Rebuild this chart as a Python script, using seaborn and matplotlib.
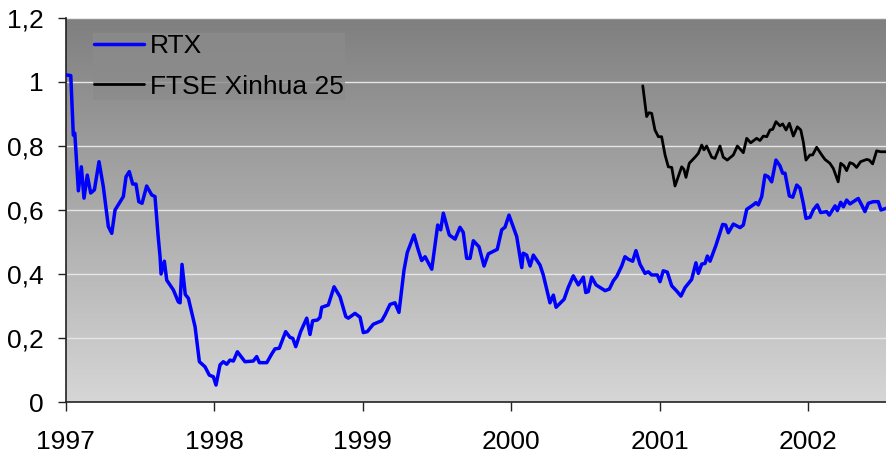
import numpy as np
import pandas as pd
import matplotlib
matplotlib.use("Agg")
import matplotlib.pyplot as plt
from matplotlib.ticker import FuncFormatter
import seaborn as sns

# time in decimal years
rtx_t = [1997.002, 1997.034, 1997.051, 1997.061, 1997.085, 1997.105, 1997.123, 1997.145, 1997.168, 1997.193,
         1997.224, 1997.253, 1997.287, 1997.310, 1997.332, 1997.388, 1997.406, 1997.428, 1997.451, 1997.473,
         1997.492, 1997.514, 1997.545, 1997.579, 1997.601, 1997.622, 1997.635, 1997.642, 1997.664, 1997.680,
         1997.725, 1997.758, 1997.770, 1997.783, 1997.805, 1997.826, 1997.871, 1997.900, 1997.938, 1997.967,
         1997.994, 1998.012, 1998.039, 1998.061, 1998.084, 1998.106, 1998.129, 1998.156, 1998.207, 1998.263,
         1998.286, 1998.304, 1998.354, 1998.387, 1998.409, 1998.438, 1998.481, 1998.510, 1998.529, 1998.549,
         1998.582, 1998.623, 1998.645, 1998.663, 1998.694, 1998.712, 1998.724, 1998.768, 1998.807, 1998.847,
         1998.886, 1998.903, 1998.948, 1998.982, 1999.004, 1999.031, 1999.071, 1999.128, 1999.150, 1999.184,
         1999.217, 1999.244, 1999.278, 1999.300, 1999.345, 1999.374, 1999.397, 1999.420, 1999.465, 1999.505,
         1999.525, 1999.543, 1999.583, 1999.622, 1999.655, 1999.677, 1999.700, 1999.723, 1999.745, 1999.783,
         1999.817, 1999.846, 1999.906, 1999.936, 1999.958, 1999.985, 2000.037, 2000.071, 2000.081, 2000.104,
         2000.127, 2000.149, 2000.194, 2000.216, 2000.261, 2000.284, 2000.302, 2000.356, 2000.384, 2000.418,
         2000.452, 2000.486, 2000.502, 2000.519, 2000.542, 2000.571, 2000.632, 2000.661, 2000.688, 2000.710,
         2000.744, 2000.766, 2000.789, 2000.818, 2000.840, 2000.867, 2000.901, 2000.923, 2000.946, 2000.984,
         2001.002, 2001.024, 2001.051, 2001.081, 2001.114, 2001.143, 2001.170, 2001.215, 2001.244, 2001.260,
         2001.283, 2001.305, 2001.321, 2001.339, 2001.379, 2001.424, 2001.444, 2001.462, 2001.496, 2001.541,
         2001.563, 2001.586, 2001.630, 2001.648, 2001.664, 2001.687, 2001.709, 2001.731, 2001.754, 2001.783,
         2001.810, 2001.828, 2001.844, 2001.873, 2001.896, 2001.923, 2001.945, 2001.967, 2001.985, 2002.012,
         2002.034, 2002.061, 2002.084, 2002.125, 2002.142, 2002.181, 2002.196, 2002.219, 2002.237, 2002.259,
         2002.281, 2002.337, 2002.360, 2002.382, 2002.405, 2002.438, 2002.472, 2002.490, 2002.524]
rtx_v = [1.022, 1.020, 0.834, 0.840, 0.660, 0.735, 0.637, 0.709, 0.653, 0.663,
         0.751, 0.673, 0.548, 0.527, 0.600, 0.642, 0.704, 0.720, 0.681, 0.681,
         0.626, 0.621, 0.675, 0.647, 0.642, 0.520, 0.455, 0.400, 0.440, 0.381,
         0.350, 0.313, 0.310, 0.430, 0.336, 0.324, 0.235, 0.126, 0.110, 0.084,
         0.079, 0.053, 0.116, 0.126, 0.118, 0.131, 0.128, 0.157, 0.126, 0.128,
         0.142, 0.123, 0.123, 0.150, 0.166, 0.168, 0.220, 0.202, 0.199, 0.173,
         0.220, 0.262, 0.211, 0.254, 0.256, 0.264, 0.296, 0.303, 0.360, 0.329,
         0.267, 0.262, 0.277, 0.265, 0.217, 0.220, 0.243, 0.254, 0.272, 0.305,
         0.310, 0.280, 0.412, 0.467, 0.522, 0.475, 0.442, 0.454, 0.415, 0.553,
         0.538, 0.590, 0.522, 0.509, 0.546, 0.530, 0.449, 0.449, 0.504, 0.485,
         0.425, 0.463, 0.477, 0.538, 0.546, 0.584, 0.517, 0.420, 0.465, 0.459,
         0.425, 0.459, 0.428, 0.397, 0.310, 0.334, 0.296, 0.321, 0.358, 0.394,
         0.366, 0.390, 0.342, 0.345, 0.390, 0.366, 0.348, 0.353, 0.379, 0.392,
         0.425, 0.454, 0.446, 0.440, 0.473, 0.431, 0.402, 0.407, 0.397, 0.397,
         0.376, 0.410, 0.406, 0.363, 0.347, 0.331, 0.357, 0.383, 0.435, 0.402,
         0.431, 0.433, 0.456, 0.440, 0.490, 0.555, 0.553, 0.529, 0.556, 0.545,
         0.553, 0.602, 0.616, 0.623, 0.616, 0.642, 0.709, 0.704, 0.688, 0.756,
         0.738, 0.715, 0.715, 0.644, 0.640, 0.678, 0.668, 0.621, 0.574, 0.577,
         0.600, 0.616, 0.592, 0.595, 0.584, 0.613, 0.598, 0.624, 0.610, 0.631,
         0.619, 0.636, 0.616, 0.595, 0.621, 0.626, 0.626, 0.600, 0.605]

ftse_t = [2000.886, 2000.912, 2000.928, 2000.946, 2000.968, 2000.991, 2001.013, 2001.036, 2001.058, 2001.081,
          2001.103, 2001.148, 2001.163, 2001.177, 2001.199, 2001.238, 2001.260, 2001.283, 2001.298, 2001.316,
          2001.350, 2001.372, 2001.406, 2001.428, 2001.455, 2001.496, 2001.523, 2001.552, 2001.563, 2001.586,
          2001.613, 2001.653, 2001.675, 2001.698, 2001.721, 2001.743, 2001.761, 2001.783, 2001.810, 2001.828,
          2001.851, 2001.873, 2001.900, 2001.927, 2001.950, 2001.967, 2001.985, 2002.012, 2002.030, 2002.057,
          2002.091, 2002.113, 2002.146, 2002.169, 2002.202, 2002.219, 2002.241, 2002.259, 2002.281, 2002.303,
          2002.326, 2002.353, 2002.394, 2002.411, 2002.434, 2002.461, 2002.488, 2002.524]
ftse_v = [0.988, 0.892, 0.904, 0.902, 0.850, 0.829, 0.829, 0.772, 0.735, 0.733,
          0.675, 0.735, 0.727, 0.702, 0.746, 0.765, 0.777, 0.803, 0.788, 0.800,
          0.765, 0.761, 0.800, 0.765, 0.756, 0.772, 0.800, 0.785, 0.779, 0.824,
          0.810, 0.824, 0.817, 0.831, 0.829, 0.850, 0.852, 0.876, 0.863, 0.869,
          0.850, 0.871, 0.831, 0.860, 0.850, 0.813, 0.756, 0.772, 0.772, 0.796,
          0.772, 0.758, 0.746, 0.730, 0.688, 0.746, 0.738, 0.723, 0.748, 0.744,
          0.733, 0.751, 0.758, 0.756, 0.744, 0.785, 0.782, 0.782]

years = [1997, 1998, 1999, 2000, 2001, 2002]
y_ticks = [0, 0.2, 0.4, 0.6, 0.8, 1.0, 1.2]


def comma_fmt(v, pos):
    s = "%g" % round(v, 2)
    return s.replace(".", ",")


sns.set_style("ticks")
plt.rcParams["font.family"] = ["Liberation Sans", "DejaVu Sans"]
plt.rcParams["text.color"] = "black"
plt.rcParams["xtick.color"] = "black"
plt.rcParams["ytick.color"] = "black"

fig = plt.figure(figsize=(8.86, 4.54), dpi=100)
ax = fig.add_axes([0.0742, 0.1145, 1 - 0.0742, 0.9604 - 0.1145])

# grey vertical gradient background
grad = np.linspace(0, 1, 256).reshape(-1, 1)
ax.imshow(grad, cmap=matplotlib.colors.LinearSegmentedColormap.from_list("bg", ["#d6d6d6", "#7f7f7f"]),
          extent=[0, 1, 0, 1], transform=ax.transAxes, aspect="auto", origin="lower", zorder=0)

rtx = pd.DataFrame({"t": rtx_t, "v": rtx_v})
ftse = pd.DataFrame({"t": ftse_t, "v": ftse_v})
sns.lineplot(data=rtx, x="t", y="v", ax=ax, color="#0000ff", linewidth=2.5, label="RTX", zorder=3)
sns.lineplot(data=ftse, x="t", y="v", ax=ax, color="#000000", linewidth=2.0, label="FTSE Xinhua 25", zorder=3)

ax.set_xlim(1997, 2002.524)
ax.set_ylim(0, 1.2)
ax.set_xticks(years)
ax.set_xticklabels([str(y) for y in years])
ax.set_yticks(y_ticks)
ax.yaxis.set_major_formatter(FuncFormatter(comma_fmt))
ax.set_xlabel("")
ax.set_ylabel("")

ax.grid(axis="y", color="#e6e6e6", linewidth=1.0, zorder=1)
ax.set_axisbelow(True)
for s in ["top", "right"]:
    ax.spines[s].set_visible(False)
for s in ["left", "bottom"]:
    ax.spines[s].set_color("#222222")
    ax.spines[s].set_linewidth(1.2)
ax.tick_params(axis="x", length=6.5, width=1, color="#222222", pad=14, labelsize=19, labelcolor="black")
ax.tick_params(axis="y", length=5.8, width=1, color="#222222", pad=10, labelsize=19, labelcolor="black")

leg = ax.legend(loc="upper left", bbox_to_anchor=(0.033, 0.961), fontsize=19, frameon=True,
                borderpad=0.05, borderaxespad=0, handlelength=1.9, handletextpad=0.2,
                labelspacing=0.62, fancybox=False)
leg.get_frame().set_facecolor("#8b8b8b")
leg.get_frame().set_edgecolor("none")
for txt in leg.get_texts():
    txt.set_color("black")

fig.savefig("out.png", dpi=100)
